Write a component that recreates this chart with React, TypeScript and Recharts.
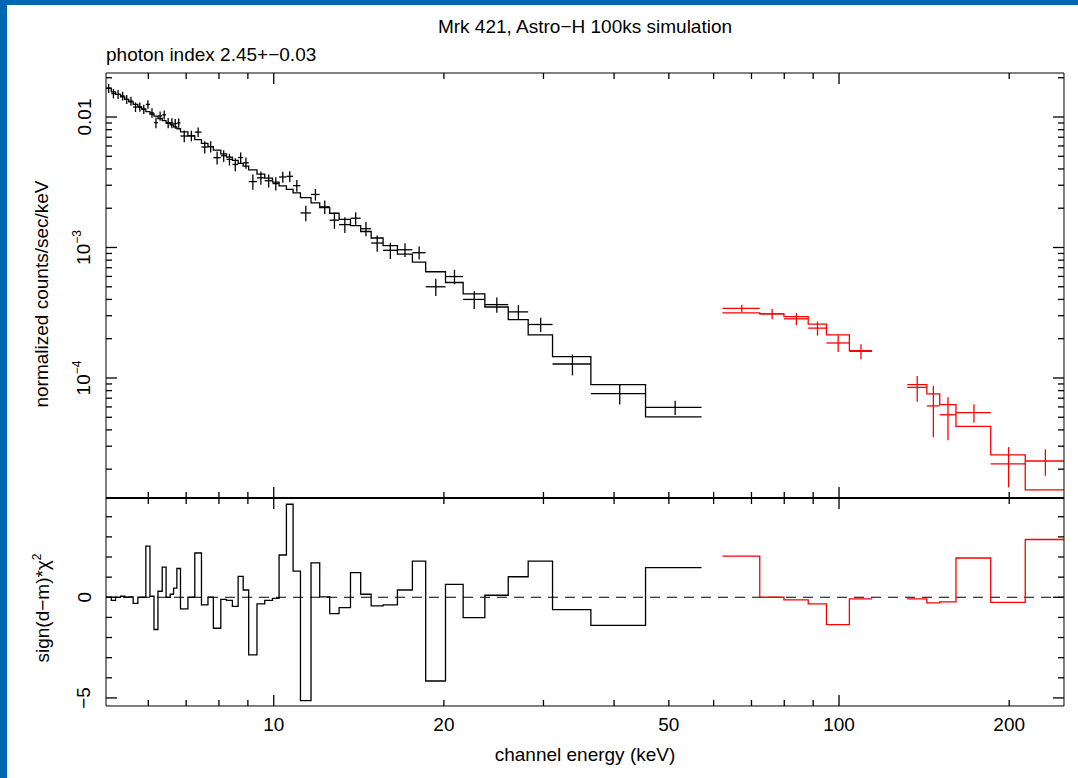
import type { ReactNode } from "react";
import {
  ComposedChart,
  Line,
  Scatter,
  ErrorBar,
  XAxis,
  YAxis,
  ReferenceLine,
} from "recharts";

const FONT = '"Liberation Sans", Arial, Helvetica, sans-serif';
const BLUE = "#0068b3";
const RED = "#ff0000";
const INK = "#000";
const FS = 19;

// HXI channel edges (keV) and per-channel values
const hxiEdges = [
  5.05, 5.16, 5.25, 5.36, 5.45, 5.54, 5.64, 5.75, 5.84, 5.94, 6.04, 6.14, 6.24, 6.35,
  6.45, 6.56, 6.65, 6.74, 6.84, 7.05, 7.25, 7.45, 7.65, 7.82, 8.06, 8.25, 8.45, 8.65,
  8.83, 9.03, 9.34, 9.64, 9.95, 10.22, 10.53, 10.82, 11.15, 11.64, 12.06, 12.56, 13.05,
  13.67, 14.25, 14.87, 15.61, 16.55, 17.59, 18.57, 20.13, 21.63, 23.63, 25.99, 28.19,
  31.13, 36.39, 45.47, 57.12,
];
const hxiData = [
  0.01661, 0.01513, 0.01491, 0.01451, 0.01365, 0.01323, 0.01193, 0.01195, 0.01149,
  0.0125, 0.01075, 0.00906, 0.01019, 0.0104, 0.009, 0.00899, 0.0089, 0.00901, 0.00715,
  0.00718, 0.00766, 0.00589, 0.00593, 0.00488, 0.00505, 0.00474, 0.00433, 0.00489,
  0.00446, 0.0032, 0.00342, 0.00325, 0.00309, 0.00347, 0.00351, 0.00298, 0.00184,
  0.00255, 0.00205, 0.00162, 0.001498, 0.001676, 0.001393, 0.001082, 0.000952,
  0.000961, 0.000912, 0.0005, 0.000599, 0.0004, 0.000365, 0.000321, 0.000257, 0.000128,
  0.000076, 0.0000595,
];
const hxiErr = [
  0.00133, 0.00125, 0.00119, 0.00114, 0.00109, 0.00105, 0.001, 0.00096, 0.00092,
  0.00094, 0.0009, 0.00086, 0.00083, 0.00084, 0.00081, 0.00078, 0.00076, 0.00073,
  0.00073, 0.00068, 0.00064, 0.00063, 0.00059, 0.00056, 0.00052, 0.00049, 0.00049,
  0.00046, 0.00044, 0.00043, 0.0004, 0.00037, 0.00036, 0.00034, 0.00033, 0.00031,
  0.00025, 0.00026, 0.00024, 0.00023, 0.000206, 0.000184, 0.000172, 0.000154, 0.000135,
  0.000116, 0.000104, 0.000075, 0.0000755, 0.0000617, 0.000049, 0.0000406, 0.0000321,
  0.0000234, 0.0000135, 0.0000075,
];
const hxiModel = [
  0.01661, 0.01561, 0.01491, 0.01425, 0.01365, 0.01308, 0.01248, 0.01195, 0.01149,
  0.01101, 0.01055, 0.01015, 0.00974, 0.00937, 0.009, 0.00869, 0.0084, 0.00813, 0.0077,
  0.00718, 0.00671, 0.00628, 0.00593, 0.00557, 0.00522, 0.00493, 0.00466, 0.00442,
  0.0042, 0.00393, 0.00365, 0.0034, 0.00317, 0.00297, 0.00279, 0.00262, 0.00241, 0.0022,
  0.00202, 0.00183, 0.001645, 0.001473, 0.001326, 0.001183, 0.001035, 0.000891,
  0.000772, 0.000652, 0.000539, 0.000441, 0.00035, 0.00028, 0.000214, 0.000146,
  0.000089, 0.0000503,
];
const hxiChi = [
  0, -0.15, 0, 0.05, 0, 0.02, -0.3, 0, 0, 2.54, 0.05, -1.6, 0.3, 1.5, 0, 0.15, 0.45, 1.43,
  -0.58, 0, 2.2, -0.38, 0, -1.54, -0.1, -0.15, -0.45, 1.04, 0.36, -2.86, -0.33, -0.15,
  -0.05, 2.1, 4.62, 1.3, -5.13, 1.71, 0.02, -0.81, -0.51, 1.22, 0.15, -0.43, -0.38, 0.36,
  1.8, -4.16, 0.64, -1.01, 0.1, 1.02, 1.8, -0.61, -1.4, 1.47,
];

// SGD, lower band
const sgdLoEdges = [62.2, 72.4, 79.9, 88.2, 95.0, 104.3, 114.4];
const sgdLoData = [3.42e-4, 3.1e-4, 2.84e-4, 2.41e-4, 1.855e-4, 1.6e-4];
const sgdLoErr = [2.2e-5, 2.8e-5, 3.0e-5, 3.0e-5, 2.7e-5, 2.1e-5];
const sgdLoModel = [3.15e-4, 3.1e-4, 2.95e-4, 2.59e-4, 2.14e-4, 1.62e-4];
const sgdLoChi = [2.04, 0, -0.13, -0.33, -1.36, -0.08];

// SGD, upper band
const sgdHiEdges = [132, 143, 150.7, 161, 185.5, 213.5, 250];
const sgdHiData = [8.47e-5, 6.11e-5, 5.23e-5, 5.42e-5, 2.2e-5, 2.31e-5];
const sgdHiErr = [1.9e-5, 2.6e-5, 1.9e-5, 0.87e-5, 0.75e-5, 0.53e-5];
const sgdHiModel = [8.88e-5, 7.56e-5, 6.25e-5, 4.25e-5, 2.57e-5, 1.39e-5];
const sgdHiChi = [-0.08, -0.28, -0.23, 1.95, -0.25, 2.87];

// axis ranges and ticks
const X_DOMAIN = [5.05, 250];
const X_TICKS = [6, 7, 8, 9, 10, 20, 30, 40, 50, 60, 70, 80, 90, 100, 200];
const X_MAJOR = [10, 100];
const X_LABELLED = [10, 20, 50, 100, 200];

const Y_DOMAIN = [1.203e-5, 0.02174];
const Y_TICKS = [
  2e-5, 3e-5, 4e-5, 5e-5, 6e-5, 7e-5, 8e-5, 9e-5, 1e-4,
  2e-4, 3e-4, 4e-4, 5e-4, 6e-4, 7e-4, 8e-4, 9e-4, 1e-3,
  2e-3, 3e-3, 4e-3, 5e-3, 6e-3, 7e-3, 8e-3, 9e-3, 1e-2, 2e-2,
];
const Y_MAJOR = [1e-4, 1e-3, 1e-2];

const R_DOMAIN = [-5.4, 4.93];
const R_TICKS = [-5, -4, -3, -2, -1, 0, 1, 2, 3, 4];
const R_MAJOR = [-5, 0];

// axes are kept (almost) zero-thick so the frame sits on the margins
const THIN = 0.01;
const MINOR_LEN = 6;
const MAJOR_LEN = 11;

type Pt = { e: number; v: number };
type Side = "top" | "bottom" | "left" | "right";

// histogram outline: one point per lower edge plus the last upper edge
function stepPoints(edges: number[], vals: number[]): Pt[] {
  const pts = vals.map((v, i) => ({ e: edges[i], v }));
  pts.push({ e: edges[edges.length - 1], v: vals[vals.length - 1] });
  return pts;
}

// data crosses: bin width as x error, 1 sigma as y error
function crossPoints(edges: number[], vals: number[], errs: number[]) {
  return vals.map((v, i) => {
    const lo = edges[i];
    const hi = edges[i + 1];
    const e = (lo + hi) / 2;
    return { e, v, ex: [e - lo, hi - e], ey: errs[i] };
  });
}

// inward tick mark drawn from the axis line, with an optional label
function tickMark(
  side: Side,
  major: number[],
  label?: (v: number, x: number, y: number) => ReactNode,
) {
  return (p: any) => {
    const { x, y } = p;
    const v = p.payload.value as number;
    const len = major.some((m) => Math.abs(m - v) < 1e-12) ? MAJOR_LEN : MINOR_LEN;
    const dx = side === "left" ? len : side === "right" ? -len : 0;
    const dy = side === "top" ? len : side === "bottom" ? -len : 0;
    return (
      <g>
        <line x1={x} y1={y} x2={x + dx} y2={y + dy} stroke={INK} strokeWidth={1.3} />
        {label ? label(v, x, y) : null}
      </g>
    );
  };
}

const energyLabel = (v: number, x: number, y: number) =>
  X_LABELLED.includes(v) ? (
    <text x={x} y={y + 25.5} textAnchor="middle" fontSize={FS} fill={INK}>
      {v}
    </text>
  ) : null;

const rotated = (x: number, y: number, children: ReactNode) => (
  <text
    x={x}
    y={y}
    transform={`rotate(-90 ${x} ${y})`}
    textAnchor="middle"
    dominantBaseline="central"
    fontSize={FS}
    fill={INK}
  >
    {children}
  </text>
);

const countLabel = (v: number, x: number, y: number) => {
  if (!Y_MAJOR.includes(v)) return null;
  if (v === 1e-2) return rotated(x - 22, y, "0.01");
  const exp = Math.round(Math.log10(v));
  return rotated(
    x - 22,
    y,
    <>
      10
      <tspan dy={-7} fontSize={12}>{`\u2212${-exp}`}</tspan>
    </>,
  );
};

const chiLabel = (v: number, x: number, y: number) =>
  R_MAJOR.includes(v) ? rotated(x - 22, y, v < 0 ? `\u2212${-v}` : `${v}`) : null;

const axisBase = {
  type: "number" as const,
  allowDataOverflow: true,
  interval: 0 as const,
  stroke: INK,
  tickSize: 0,
  tickMargin: 0,
  tickLine: false,
};

const xProps = { ...axisBase, scale: "log" as const, domain: X_DOMAIN, dataKey: "e", height: THIN, ticks: X_TICKS };
const yLogProps = { ...axisBase, scale: "log" as const, domain: Y_DOMAIN, width: THIN, ticks: Y_TICKS };
const yResProps = { ...axisBase, domain: R_DOMAIN, width: THIN, ticks: R_TICKS };

const NoMark = () => <g />;

const lineStyle = {
  type: "stepAfter" as const,
  dataKey: "v",
  strokeWidth: 1.3,
  dot: false,
  activeDot: false,
  isAnimationActive: false,
  xAxisId: "x",
  yAxisId: "y",
};

function SpectrumPanel() {
  const sets = [
    { key: "hxi", data: crossPoints(hxiEdges, hxiData, hxiErr), color: INK },
    { key: "sgdLo", data: crossPoints(sgdLoEdges, sgdLoData, sgdLoErr), color: RED },
    { key: "sgdHi", data: crossPoints(sgdHiEdges, sgdHiData, sgdHiErr), color: RED },
  ];
  return (
    <ComposedChart width={1078} height={500} margin={{ top: 73, right: 14, bottom: 2, left: 106 }}>
      <XAxis xAxisId="x" {...xProps} tick={tickMark("bottom", X_MAJOR)} />
      <XAxis xAxisId="xt" orientation="top" {...xProps} tick={tickMark("top", X_MAJOR)} />
      <YAxis yAxisId="y" {...yLogProps} tick={tickMark("left", Y_MAJOR, countLabel)} />
      <YAxis yAxisId="yr" orientation="right" {...yLogProps} tick={tickMark("right", Y_MAJOR)} />

      <Line {...lineStyle} data={stepPoints(hxiEdges, hxiModel)} stroke={INK} />
      <Line {...lineStyle} data={stepPoints(sgdLoEdges, sgdLoModel)} stroke={RED} />
      <Line {...lineStyle} data={stepPoints(sgdHiEdges, sgdHiModel)} stroke={RED} />

      {sets.map((s) => (
        <Scatter
          key={s.key}
          xAxisId="x"
          yAxisId="y"
          data={s.data}
          dataKey="v"
          fill={s.color}
          shape={NoMark}
          isAnimationActive={false}
        >
          <ErrorBar dataKey="ex" direction="x" width={0} stroke={s.color} strokeWidth={1.3} isAnimationActive={false} />
          <ErrorBar dataKey="ey" direction="y" width={0} stroke={s.color} strokeWidth={1.3} isAnimationActive={false} />
        </Scatter>
      ))}
    </ComposedChart>
  );
}

function ResidualPanel() {
  return (
    <ComposedChart width={1078} height={778} margin={{ top: 498, right: 14, bottom: 72, left: 106 }}>
      <XAxis xAxisId="x" {...xProps} tick={tickMark("bottom", X_MAJOR, energyLabel)} />
      <XAxis
        xAxisId="xt"
        orientation="top"
        {...xProps}
        tick={tickMark("top", X_MAJOR)}
        axisLine={{ strokeWidth: 2.2 }}
      />
      <YAxis yAxisId="y" {...yResProps} tick={tickMark("left", R_MAJOR, chiLabel)} />
      <YAxis yAxisId="yr" orientation="right" {...yResProps} tick={tickMark("right", R_MAJOR)} />

      <ReferenceLine xAxisId="x" yAxisId="y" y={0} stroke={INK} strokeWidth={1.2} strokeDasharray="10 7" />

      <Line {...lineStyle} data={stepPoints(hxiEdges, hxiChi)} stroke={INK} />
      <Line {...lineStyle} data={stepPoints(sgdLoEdges, sgdLoChi)} stroke={RED} />
      <Line {...lineStyle} data={stepPoints(sgdHiEdges, sgdHiChi)} stroke={RED} />
    </ComposedChart>
  );
}

export default function App() {
  const text = { position: "absolute" as const, fontSize: FS, color: INK, whiteSpace: "nowrap" as const };
  const vertical = {
    ...text,
    transform: "translate(-50%, -50%) rotate(-90deg)",
  };
  return (
    <div
      style={{
        position: "absolute",
        left: 0,
        top: 0,
        width: 1078,
        height: 778,
        background: "#fff",
        fontFamily: FONT,
        overflow: "hidden",
      }}
    >
      <div style={{ position: "absolute", left: 0, top: 0 }}>
        <SpectrumPanel />
      </div>
      <div style={{ position: "absolute", left: 0, top: 0 }}>
        <ResidualPanel />
      </div>

      <div style={{ ...text, left: 106, width: 958, top: 16, textAlign: "center" }}>
        Mrk 421, Astro{"\u2212"}H 100ks simulation
      </div>
      <div style={{ ...text, left: 106, top: 44 }}>photon index 2.45+{"\u2212"}0.03</div>
      <div style={{ ...text, left: 106, width: 958, top: 744, textAlign: "center" }}>
        channel energy (keV)
      </div>
      <div style={{ ...vertical, left: 42, top: 294 }}>normalized counts/sec/keV</div>
      <div style={{ ...vertical, left: 42, top: 608 }}>
        sign(d{"\u2212"}m)*{"\u03c7"}
        <sup style={{ fontSize: 12 }}>2</sup>
      </div>

      <div style={{ position: "absolute", left: 0, top: 0, width: 1078, height: 5, background: BLUE }} />
      <div style={{ position: "absolute", left: 0, top: 0, width: 7, height: 778, background: BLUE }} />
    </div>
  );
}
